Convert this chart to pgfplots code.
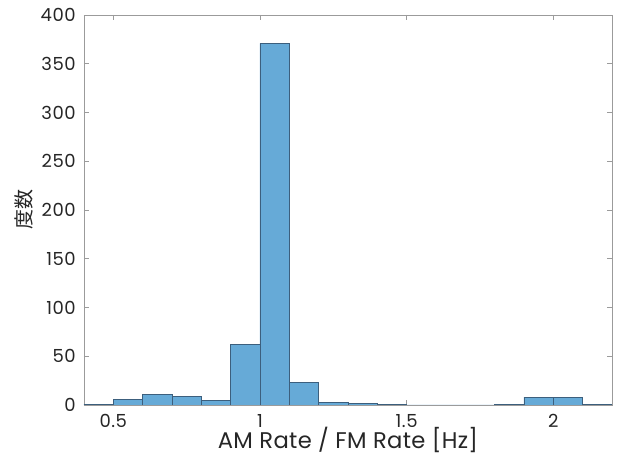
\documentclass[border=0pt]{standalone}
\usepackage{fontspec}
\setmainfont{Poppins}
\newfontfamily\cjk{Noto Sans CJK JP}
\usepackage{pgfplots}
\pgfplotsset{compat=1.18}
\definecolor{barfill}{RGB}{102,170,215}
\definecolor{baredge}{RGB}{60,95,125}
\definecolor{axgray}{RGB}{155,155,155}
\definecolor{txt}{RGB}{38,38,38}
\begin{document}
\begin{tikzpicture}
\begin{axis}[
  name=ax,
  scale only axis,
  width=396pt, height=292.5pt,
  xmin=0.4, xmax=2.2, ymin=0, ymax=400,
  xtick={0.5,1,1.5,2}, ytick={0,50,...,400},
  xticklabels={0.5,1,1.5,2},
  tick align=inside,
  major tick length=4pt,
  axis line style={axgray, line width=0.6pt},
  tick style={axgray, line width=0.6pt},
  every tick label/.style={font=\fontsize{13.5}{15}\selectfont\addfontfeatures{LetterSpace=3}, text=txt},
  /pgf/number format/assume math mode=true,
  yticklabel style={anchor=east, inner sep=0pt, xshift=-6pt},
  xticklabel style={anchor=base, inner sep=0pt, yshift=-17.25pt},
  xlabel={AM Rate / FM Rate [Hz]},
  ylabel={\cjk 度数},
  xlabel style={font=\fontsize{17}{19}\selectfont\addfontfeatures{LetterSpace=1.5}, text=txt, at={(0.5,0)}, anchor=base, inner sep=0pt, yshift=-33pt},
  ylabel style={font=\fontsize{15}{18}\selectfont, text=txt, at={(0,0.5)}, anchor=center, inner sep=0pt, yshift=45pt},
]
\addplot[ybar interval, fill=barfill, draw=baredge, line width=0.5pt] coordinates {
 (0.4,1) (0.5,6) (0.6,11) (0.7,9) (0.8,5) (0.9,62) (1.0,371) (1.1,23)
 (1.2,3) (1.3,2) (1.4,1) (1.5,0) (1.6,0) (1.7,0) (1.8,1) (1.9,8)
 (2.0,8) (2.1,1) (2.2,0)
};
\end{axis}
\pgfresetboundingbox
\path[use as bounding box] ([xshift=-63pt,yshift=-39pt]ax.south west) rectangle ([xshift=5.25pt,yshift=11.25pt]ax.north east);
\end{tikzpicture}
\end{document}
